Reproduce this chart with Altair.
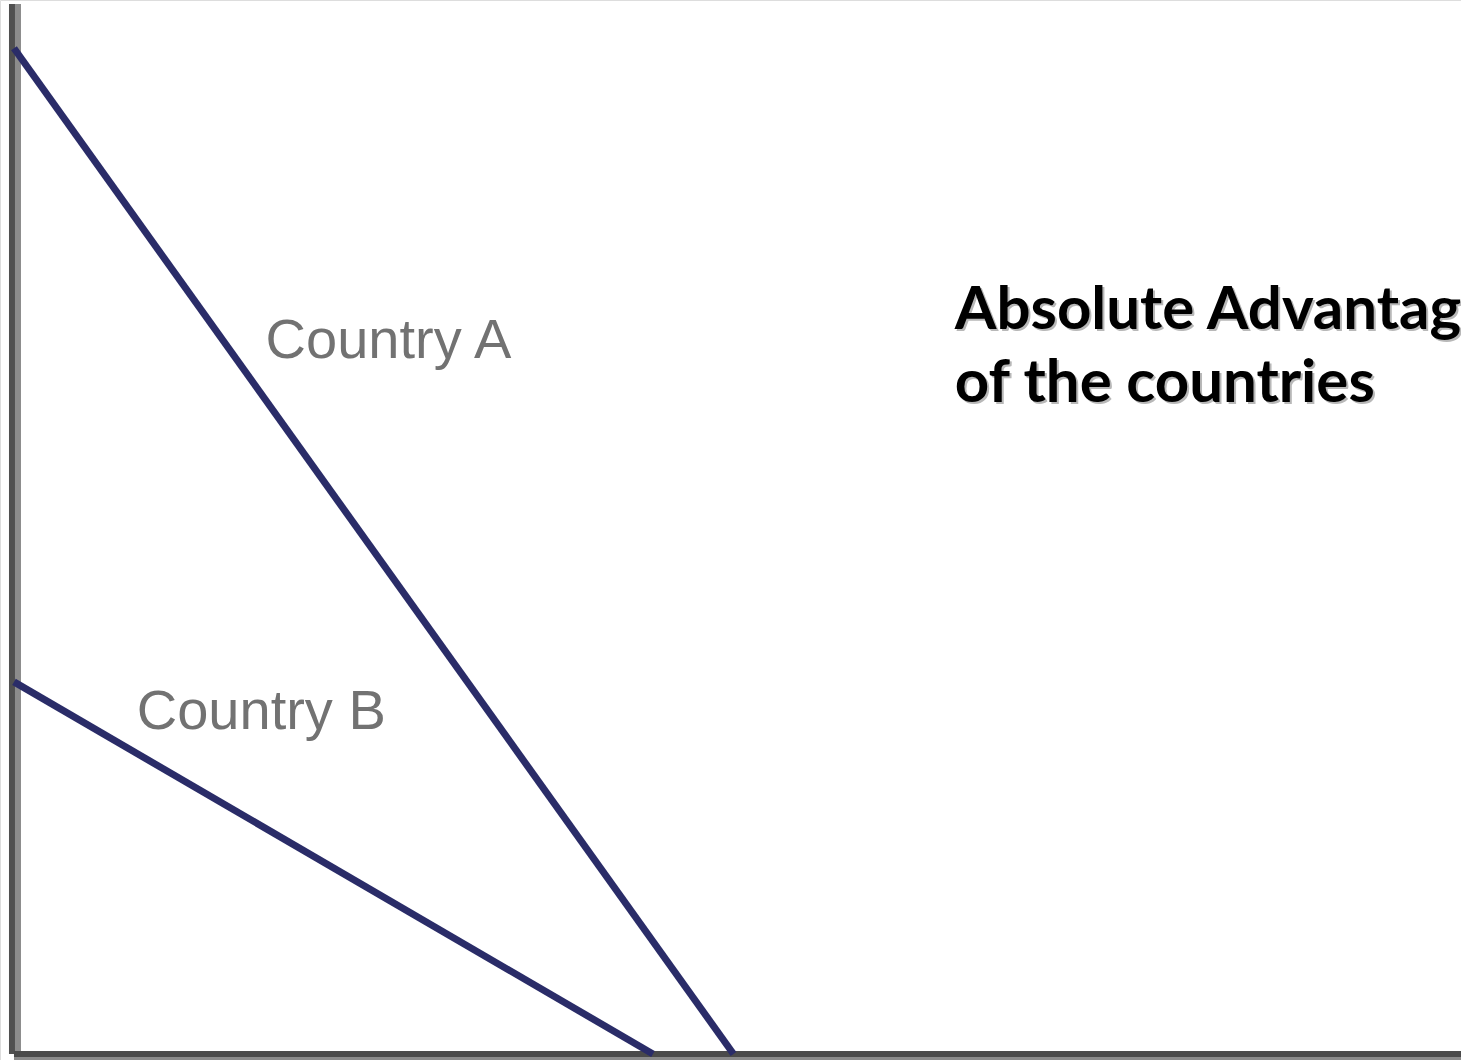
import altair as alt
import pandas as pd

# Production possibility frontiers: (good X, good Y) end points
countries = ["Country A", "Country A", "Country B", "Country B"]
good_x = [0.0, 71.5, 0.0, 63.5]
good_y = [100.0, 0.0, 37.0, 0.0]

# Curve labels and their anchor positions (data units)
label_text = ["Country A", "Country B"]
label_x = [25.0, 12.2]
label_y = [69.2, 32.3]

title_lines = ["Absolute Advantage", "of the countries"]
title_x = [93.5, 93.5]
title_y = [72.1, 64.8]

X_DOMAIN = [-1.39, 143.8]
Y_DOMAIN = [-0.6, 104.8]

lines_df = pd.DataFrame({"country": countries, "x": good_x, "y": good_y})
labels_df = pd.DataFrame({"text": label_text, "x": label_x, "y": label_y})
title_df = pd.DataFrame({"text": title_lines, "x": title_x, "y": title_y})
vaxis_df = pd.DataFrame({"x": [0.0], "y": [0.0], "y2": [Y_DOMAIN[1] - 0.4]})
haxis_df = pd.DataFrame({"x": [0.0], "x2": [X_DOMAIN[1]], "y": [0.0]})

xs = alt.Scale(domain=X_DOMAIN, nice=False, zero=False)
ys = alt.Scale(domain=Y_DOMAIN, nice=False, zero=False)
X = lambda f="x": alt.X(f"{f}:Q", scale=xs, axis=None)
Y = lambda f="y": alt.Y(f"{f}:Q", scale=ys, axis=None)

# Axes drawn as two-tone rules
v_dark = alt.Chart(vaxis_df).mark_rule(color="#505050", strokeWidth=6, xOffset=-2).encode(
    x=X(), y=Y(), y2="y2:Q")
v_light = alt.Chart(vaxis_df).mark_rule(color="#8c8c8c", strokeWidth=6, xOffset=4).encode(
    x=X(), y=Y(), y2="y2:Q")
h_dark = alt.Chart(haxis_df).mark_rule(color="#4a4a4a", strokeWidth=6).encode(
    x=X(), x2="x2:Q", y=Y())
h_light = alt.Chart(haxis_df).mark_rule(color="#8a8a8a", strokeWidth=6, yOffset=6).encode(
    x=X(), x2="x2:Q", y=Y())

ppf = alt.Chart(lines_df).mark_line(color="#2a2c68", strokeWidth=7).encode(
    x=X(), y=Y(), detail="country:N")

labels = alt.Chart(labels_df).mark_text(
    font="Liberation Sans", fontSize=56, color="#727272", align="left", baseline="alphabetic"
).encode(x=X(), y=Y(), text="text:N")

title_shadow = alt.Chart(title_df).mark_text(
    font="Lato", fontWeight="bold", fontSize=60, color="#b8b8b8",
    align="left", baseline="alphabetic", dx=2, dy=2
).encode(x=X(), y=Y(), text="text:N")
title = alt.Chart(title_df).mark_text(
    font="Lato", fontWeight="bold", fontSize=60, color="#000000",
    align="left", baseline="alphabetic"
).encode(x=X(), y=Y(), text="text:N")

chart = alt.layer(
    v_dark, v_light, h_dark, h_light, ppf, labels, title_shadow, title
).properties(
    width=1461, height=1060, padding=0,
    autosize=alt.AutoSizeParams(type="none"),
).configure_view(stroke=None).configure(background="#ffffff")

chart.save("out.html", embed_options={"renderer": "svg", "actions": False})
